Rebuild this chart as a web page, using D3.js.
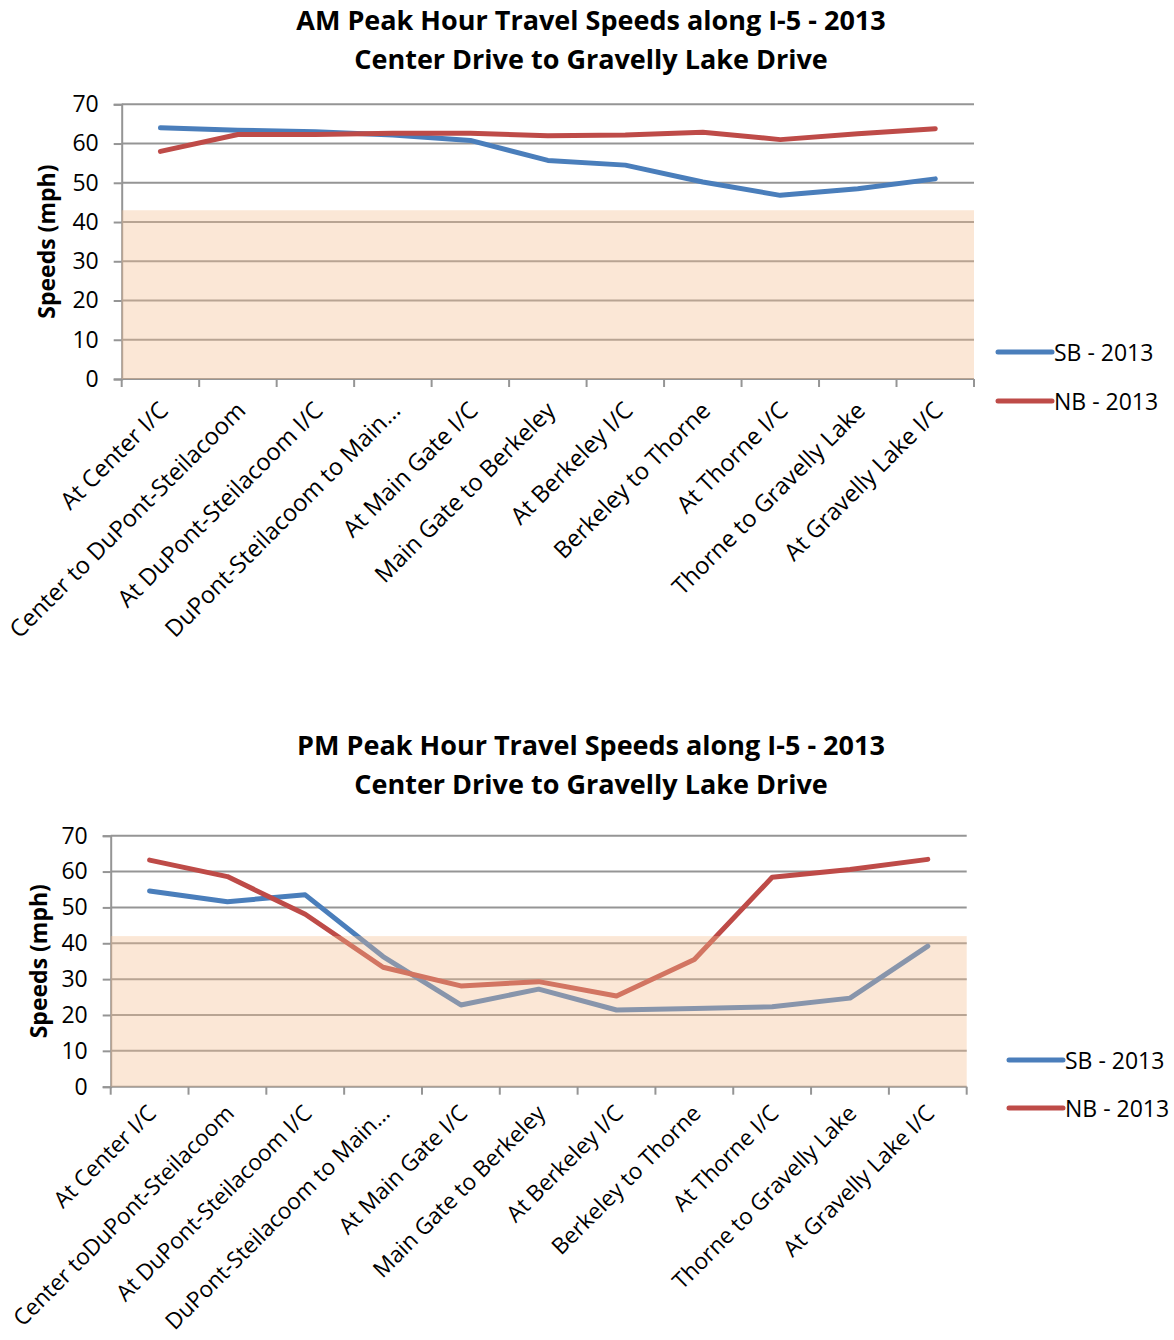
<!DOCTYPE html>
<html><head><meta charset="utf-8">
<script src="https://cdn.jsdelivr.net/npm/d3@7"></script>
<style>body{margin:0;background:#fff}svg{display:block}text{font-family:"Open Sans",Lato,sans-serif;fill:#000}</style>
</head><body><svg id="c" width="1174" height="1340"></svg>
<script>
const amCategories = ["At Center I/C","Center to DuPont-Steilacoom","At DuPont-Steilacoom I/C","DuPont-Steilacoom to Main…","At Main Gate I/C","Main Gate to Berkeley","At Berkeley I/C","Berkeley to Thorne","At Thorne I/C","Thorne to Gravelly Lake","At Gravelly Lake I/C"];
const pmCategories = ["At Center I/C","Center toDuPont-Steilacoom","At DuPont-Steilacoom I/C","DuPont-Steilacoom to Main…","At Main Gate I/C","Main Gate to Berkeley","At Berkeley I/C","Berkeley to Thorne","At Thorne I/C","Thorne to Gravelly Lake","At Gravelly Lake I/C"];
const amSB = [64.0,63.4,63.0,62.2,60.8,55.7,54.5,50.2,46.8,48.5,51.0];
const amNB = [58.0,62.3,62.3,62.6,62.6,62.0,62.2,62.9,61.0,62.5,63.8];
const pmSB = [54.6,51.6,53.5,36.3,22.8,27.2,21.4,21.8,22.3,24.7,39.2];
const pmNB = [63.2,58.6,48.1,33.3,28.1,29.3,25.3,35.5,58.4,60.6,63.4];
const yTicks = [0,10,20,30,40,50,60,70];
const amThreshold = 43, pmThreshold = 42;
const seriesNames = ["SB - 2013","NB - 2013"];
const colors = ["#4A7EBB","#BE4B48"];

const svg = d3.select("#c");

function drawChart(o){
  const g = svg.append("g");
  const x = d3.scaleBand().domain(o.cats).range([o.left,o.right]);
  const y = d3.scaleLinear().domain([0,70]).range([o.bottom,o.top]);
  // title
  g.append("text").attr("x",591).attr("y",o.titleY).attr("text-anchor","middle")
    .attr("font-size",27).attr("font-weight","bold").text(o.title1);
  g.append("text").attr("x",591).attr("y",o.titleY+38.5).attr("text-anchor","middle")
    .attr("font-size",27).attr("font-weight","bold").text("Center Drive to Gravelly Lake Drive");
  // gridlines
  g.selectAll(".grid").data(yTicks.filter(d=>d>0)).join("line")
    .attr("x1",o.left).attr("x2",o.right).attr("y1",d=>y(d)).attr("y2",d=>y(d))
    .attr("stroke","#959595").attr("stroke-width",2);
  // y axis
  const ya = g.append("g").attr("transform",`translate(${o.left},0)`)
    .call(d3.axisLeft(y).tickValues(yTicks).tickSize(8).tickPadding(15));
  ya.select(".domain").attr("stroke","#959595").attr("stroke-width",2);
  ya.selectAll(".tick line").attr("stroke","#959595").attr("stroke-width",2);
  ya.selectAll(".tick text").attr("font-size",23).attr("font-family","'Open Sans',Lato,sans-serif").attr("fill","#000");
  // x axis with ticks between categories
  const bounds = d3.range(o.cats.length+1).map(i=>o.left+i*x.step());
  g.selectAll(".xt").data(bounds).join("line")
    .attr("x1",d=>d).attr("x2",d=>d).attr("y1",o.bottom).attr("y2",o.bottom+8)
    .attr("stroke","#959595").attr("stroke-width",2);
  g.append("line").attr("x1",o.left).attr("x2",o.right).attr("y1",o.bottom).attr("y2",o.bottom)
    .attr("stroke","#959595").attr("stroke-width",2);
  // lines
  const line = d3.line().x((d,i)=>x(o.cats[i])+x.bandwidth()/2).y(d=>y(d));
  [o.sb,o.nb].forEach((s,k)=>{
    g.append("path").datum(s).attr("d",line).attr("fill","none")
      .attr("stroke",colors[k]).attr("stroke-width",5).attr("stroke-linecap","round").attr("stroke-linejoin","round");
  });
  // threshold shade overlay
  g.append("rect").attr("x",o.left).attr("width",o.right-o.left)
    .attr("y",y(o.threshold)).attr("height",y(0)-y(o.threshold))
    .attr("fill","rgb(244,190,144)").attr("fill-opacity",0.37);
  // x labels
  g.selectAll(".xl").data(o.cats).join("text")
    .attr("transform",d=>`translate(${x(d)+x.bandwidth()/2+o.lblDx},${o.bottom+o.lblDy}) rotate(-45)`)
    .attr("text-anchor","end").attr("font-size",o.lblSize).text(d=>d);
  // y title
  g.append("text").attr("transform",`translate(${o.yTitleX},${(o.top+o.bottom)/2}) rotate(-90)`)
    .attr("text-anchor","middle").attr("font-size",23).attr("font-weight","bold").text("Speeds (mph)");
  // legend
  seriesNames.forEach((n,k)=>{
    const ly = o.legendY + k*o.legendGap;
    g.append("line").attr("x1",o.legendX).attr("x2",o.legendX+54).attr("y1",ly).attr("y2",ly)
      .attr("stroke",colors[k]).attr("stroke-width",5).attr("stroke-linecap","round");
    g.append("text").attr("x",o.legendX+56).attr("y",ly+9).attr("font-size",23).text(n);
  });
}

drawChart({cats:amCategories, sb:amSB, nb:amNB, threshold:amThreshold,
  left:121.7, right:974, top:104.3, bottom:379, title1:"AM Peak Hour Travel Speeds along I-5 - 2013",
  titleY:30, yTitleX:55, legendX:998, legendY:352, legendGap:49, lblDx:9, lblDy:33, lblSize:23.7});
drawChart({cats:pmCategories, sb:pmSB, nb:pmNB, threshold:pmThreshold,
  left:110.7, right:966.7, top:835.7, bottom:1086.7, title1:"PM Peak Hour Travel Speeds along I-5 - 2013",
  titleY:755, yTitleX:47, legendX:1009, legendY:1060, legendGap:48, lblDx:8, lblDy:28, lblSize:22.6});
</script></body></html>
